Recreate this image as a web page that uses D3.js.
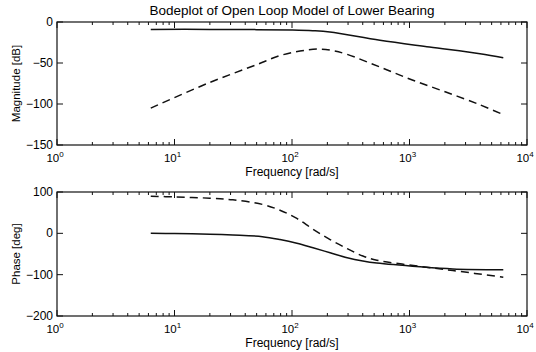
<!DOCTYPE html>
<html>
<head>
<meta charset="utf-8">
<script src="https://cdn.jsdelivr.net/npm/d3@7"></script>
<style>
  body { margin: 0; background: #fff; }
  svg { font-family: "Liberation Sans", Arial, sans-serif; }
</style>
</head>
<body>
<svg id="chart" width="536" height="352"></svg>
<script>
// Data (frequency in rad/s)
const magSolidW  = [6.28, 20, 50, 100, 150, 210, 560, 1480, 3980, 6283];
const magSolidDb = [-9, -9, -9.3, -9.8, -10.6, -12.2, -22.3, -30.5, -38.6, -43.5];

const magDashW  = [6.28, 19, 50, 79, 117, 166, 224, 295, 562, 1070, 2090, 3980, 6283];
const magDashDb = [-105, -75, -52, -41, -35.5, -33, -35, -39.5, -55, -71, -86, -101, -113];

const phSolidW   = [6.28, 10, 20, 31.4, 56, 79, 110, 151, 211, 295, 401, 527, 1230, 2340, 6283];
const phSolidDeg = [0, -0.5, -2, -4, -8, -15, -24, -35, -47, -59, -67, -72, -81, -86, -88];

const phDashW   = [6.28, 10, 20, 31.4, 56, 79, 110, 151, 211, 295, 401, 527, 1230, 2340, 6283];
const phDashDeg = [90, 88, 85, 81, 70, 56, 36, 10, -15, -37, -55, -65, -80, -90, -106];

const xDecades = [1, 10, 100, 1000, 10000];
const magTicks = [0, -50, -100, -150];
const phTicks  = [100, 0, -100, -200];

const svg = d3.select("#chart");
const left = 57, right = 527;

const x = d3.scaleLog().domain([1, 10000]).range([left, right]);

// minor tick values 2..9 per decade
const minor = [];
for (let d = 1; d < 10000; d *= 10) {
  for (let k = 2; k <= 9; k++) minor.push(d * k);
}

function panel(top, bottom, yDomain, yTicks, yLabel, series) {
  const y = d3.scaleLinear().domain(yDomain).range([bottom, top]);
  const g = svg.append("g");

  // series
  series.forEach(s => {
    const pts = s.w.map((w, i) => [w, s.v[i]]);
    g.append("path")
      .datum(pts)
      .attr("fill", "none")
      .attr("stroke", "#111")
      .attr("stroke-width", 1.5)
      .attr("stroke-dasharray", s.dash || null)
      .attr("d", d3.line().x(d => x(d[0])).y(d => y(d[1])).curve(d3.curveCatmullRom.alpha(0.5)));
  });

  // box
  g.append("rect")
    .attr("x", left).attr("y", top)
    .attr("width", right - left).attr("height", bottom - top)
    .attr("fill", "none").attr("stroke", "#111").attr("stroke-width", 1.2);

  // x ticks, inward on bottom and top
  const tick = (vals, len) => {
    vals.forEach(v => {
      g.append("line").attr("x1", x(v)).attr("x2", x(v))
        .attr("y1", bottom).attr("y2", bottom - len)
        .attr("stroke", "#111").attr("stroke-width", 1);
      g.append("line").attr("x1", x(v)).attr("x2", x(v))
        .attr("y1", top).attr("y2", top + len)
        .attr("stroke", "#111").attr("stroke-width", 1);
    });
  };
  tick(minor, 3);
  tick(xDecades, 6);

  // y ticks, inward on left and right
  yTicks.forEach(v => {
    g.append("line").attr("x1", left).attr("x2", left + 6)
      .attr("y1", y(v)).attr("y2", y(v)).attr("stroke", "#111");
    g.append("line").attr("x1", right).attr("x2", right - 6)
      .attr("y1", y(v)).attr("y2", y(v)).attr("stroke", "#111");
    g.append("text")
      .attr("x", left - 4).attr("y", y(v) + 4)
      .attr("text-anchor", "end")
      .attr("font-size", 12)
      .text(String(v).replace("-", "\u2212"));
  });

  // x tick labels 10^n
  xDecades.forEach(v => {
    const t = g.append("text")
      .attr("x", x(v) - 2).attr("y", bottom + 17)
      .attr("text-anchor", "middle")
      .attr("font-size", 11.5);
    t.append("tspan").text("10");
    t.append("tspan").attr("dy", -5).attr("font-size", 8).text(Math.round(Math.log10(v)));
  });

  g.append("text")
    .attr("x", (left + right) / 2).attr("y", bottom + 30.5)
    .attr("text-anchor", "middle")
    .attr("font-size", 12)
    .text("Frequency [rad/s]");

  g.append("text")
    .attr("transform", `translate(20, ${(top + bottom) / 2}) rotate(-90)`)
    .attr("text-anchor", "middle")
    .attr("font-size", 11.5)
    .text(yLabel);
}

panel(22, 145, [-150, 0], magTicks, "Magnitude [dB]", [
  { w: magSolidW, v: magSolidDb },
  { w: magDashW, v: magDashDb, dash: "8,5" }
]);

panel(192, 316, [-200, 100], phTicks, "Phase [deg]", [
  { w: phSolidW, v: phSolidDeg },
  { w: phDashW, v: phDashDeg, dash: "8,5" }
]);

svg.append("text")
  .attr("x", (left + right) / 2).attr("y", 15)
  .attr("text-anchor", "middle")
  .attr("font-size", 13.5)
  .text("Bodeplot of Open Loop Model of Lower Bearing");
</script>
</body>
</html>
